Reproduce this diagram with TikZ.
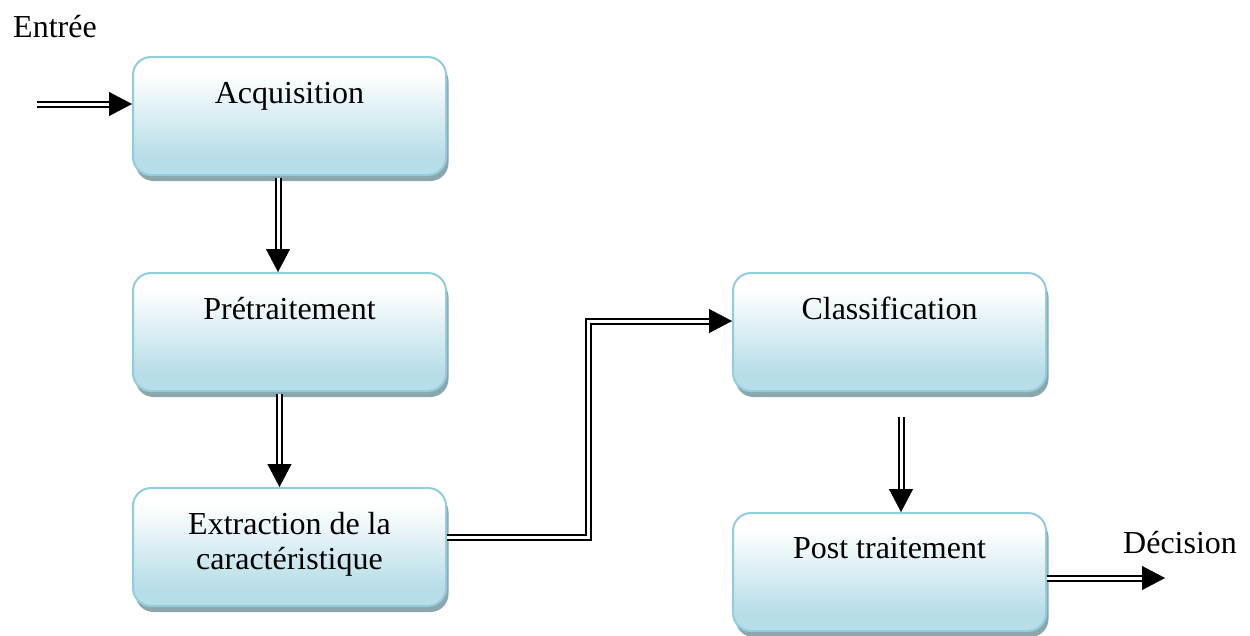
\documentclass[tikz,border=0pt]{standalone}
\usepackage{fontspec}
\setmainfont{Liberation Serif}
\usetikzlibrary{arrows.meta,shadows,decorations.markings}

\definecolor{boxblue}{RGB}{183,222,232}
\definecolor{boxedge}{RGB}{146,205,220}
\definecolor{boxshadow}{RGB}{140,166,174}

% white at the top, light blue towards the bottom
\pgfdeclareverticalshading{stepshade}{100bp}{color(0bp)=(boxblue); color(33bp)=(boxblue); color(68bp)=(white); color(100bp)=(white)}

\begin{document}
\begin{tikzpicture}[x=1pt,y=-1pt,
  stepbox/.style={rectangle, rounded corners=18pt, minimum width=313pt,
    minimum height=118pt, inner sep=0pt, draw=boxedge, line width=2pt,
    shading=stepshade,
    drop shadow={shadow xshift=2.5pt, shadow yshift=-6pt, fill=boxshadow, opacity=1}},
  steptext/.style={anchor=base, font=\fontsize{32}{35}\selectfont, inner sep=0pt, align=center},
  tag/.style={font=\fontsize{32}{35}\selectfont, inner sep=0pt},
  dbl/.style={
    preaction={draw, line width=2pt, double=white, double distance=3pt, shorten >=20pt},
    postaction=decorate,
    decoration={markings, mark=at position 1 with {\arrow[line width=0.4pt]{Triangle[length=23pt,width=24pt]}}}}
]
\useasboundingbox (0,0) rectangle (1250,635);

% processing steps
\node[stepbox] (acq)  at (289.5,116) {};
\node[stepbox] (pre)  at (289.5,332) {};
\node[stepbox] (ext)  at (289.5,547) {};
\node[stepbox] (cls)  at (889.5,332) {};
\node[stepbox] (post) at (889.5,572) {};

\node[steptext] (acqt)  at ([yshift=-47pt]acq.north)  {Acquisition};
\node[steptext] (pret)  at ([yshift=-47pt]pre.north)  {Prétraitement};
% the base anchor of a two-line node sits on its last line
\node[steptext] (extt)  at ([yshift=-82pt]ext.north)  {Extraction de la\\caractéristique};
\node[steptext] (clst)  at ([yshift=-47pt]cls.north)  {Classification};
\node[steptext] (postt) at ([yshift=-46pt]post.north) {Post traitement};

% input and output labels
\node[tag, anchor=base west] (entree)   at (13,37)    {Entrée};
\node[tag, anchor=base west] (decision) at (1123,553) {Décision};

% connectors
\coordinate (in)     at (37,104);
\coordinate (turn)   at (588,321);
\coordinate (clsout) at ([xshift=11.5pt,yshift=-25pt]cls.south);
\coordinate (out)    at (1165,578);

\path[dbl] (in) -- (in -| acq.west);
\path[dbl] ([xshift=-11.5pt,yshift=-2pt]acq.south) -- ([xshift=-11.5pt]pre.north);
\path[dbl] ([xshift=-10pt,yshift=-2pt]pre.south) -- ([xshift=-10pt]ext.north);
\path[dbl] ([yshift=10pt]ext.east) -| (turn) -- (turn -| cls.west);
\path[dbl] (clsout) -- (clsout |- post.north);
\path[dbl] (post.east |- out) -- (out);
\end{tikzpicture}
\end{document}
